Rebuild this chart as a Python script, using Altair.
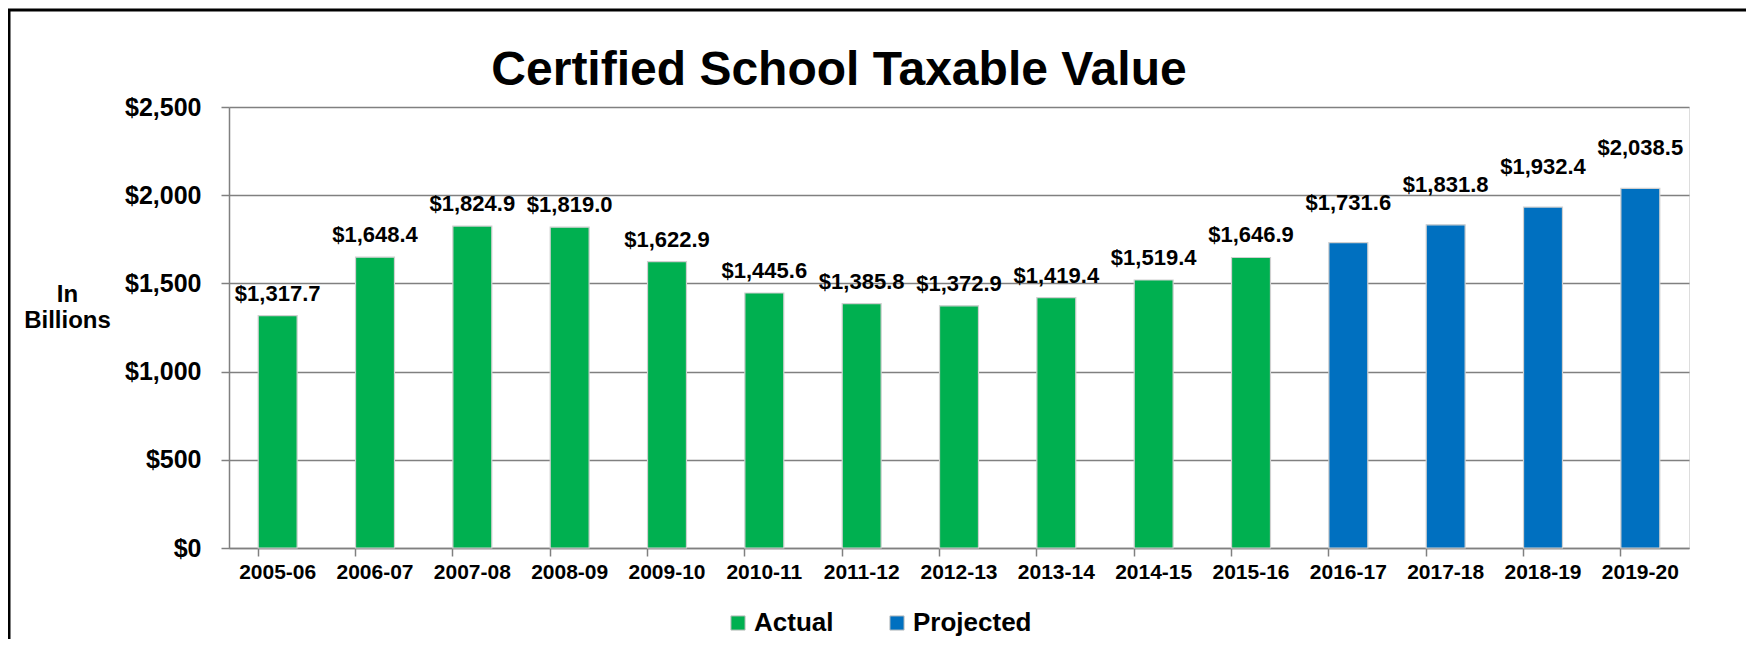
import altair as alt
import pandas as pd

years = ["2005-06", "2006-07", "2007-08", "2008-09", "2009-10", "2010-11", "2011-12",
         "2012-13", "2013-14", "2014-15", "2015-16", "2016-17", "2017-18", "2018-19", "2019-20"]
values = [1317.7, 1648.4, 1824.9, 1819.0, 1622.9, 1445.6, 1385.8,
          1372.9, 1419.4, 1519.4, 1646.9, 1731.6, 1831.8, 1932.4, 2038.5]
status = ["Actual"] * 11 + ["Projected"] * 4
series = ["Actual", "Projected"]
colors = ["#00B050", "#0070C0"]
y_ticks = [0, 500, 1000, 1500, 2000, 2500]

df = pd.DataFrame({"year": years, "value": values, "status": status})

FONT = "Liberation Sans"
W, H = 1460, 441

x_scale = alt.Scale(paddingInner=0.6, paddingOuter=0.3)
y_scale = alt.Scale(domain=[0, 2500], nice=False, zero=True)

x_enc = alt.X("year:N", sort=years, title=None, scale=x_scale,
              axis=alt.Axis(labelAngle=0, labelFont=FONT, labelFontSize=21, labelFontWeight="bold",
                            labelColor="black", labelPadding=5, tickSize=8, tickColor="#808080",
                            tickWidth=1.5, domainColor="#808080", domainWidth=1.5,
                            bandPosition=0, grid=False))
y_enc = alt.Y("value:Q", scale=y_scale,
              title=["In", "Billions"],
              axis=alt.Axis(values=y_ticks, format="$,.0f", labelFont=FONT, labelFontSize=25,
                            labelFontWeight="bold", labelColor="black", labelPadding=20,
                            tickSize=8, tickColor="#808080", tickWidth=1.5,
                            domainColor="#808080", domainWidth=1.5,
                            grid=True, gridColor="#808080", gridWidth=1.5,
                            titleAngle=0, titleFont=FONT, titleFontSize=24, titleFontWeight="bold",
                            titleColor="black", titleX=-162, titleY=194, titleAlign="center",
                            titleBaseline="alphabetic", titleLineHeight=26))

base = alt.Chart(df)

bars = base.mark_bar(stroke="#d0d0d0", strokeWidth=1.2).encode(
    x=x_enc,
    y=y_enc,
    color=alt.Color("status:N", scale=alt.Scale(domain=series, range=colors),
                    legend=alt.Legend(title=None, orient="none", legendX=496, legendY=503,
                                      direction="horizontal", symbolType="square", symbolSize=200,
                                      symbolStrokeColor="#bfbfbf", symbolStrokeWidth=1,
                                      labelFont=FONT, labelFontSize=26, labelFontWeight="bold",
                                      labelColor="black", columnPadding=50, labelOffset=3)),
)

x_plain = alt.X("year:N", sort=years, scale=x_scale, title=None)
y_plain = alt.Y("value:Q", scale=y_scale, title=["In", "Billions"])

labels_actual = base.transform_filter(alt.datum.status == "Actual").mark_text(
    font=FONT, fontSize=22, fontWeight="bold", color="black", baseline="alphabetic", dy=-15
).encode(x=x_plain, y=y_plain, text=alt.Text("value:Q", format="$,.1f"))

labels_proj = base.transform_filter(alt.datum.status == "Projected").mark_text(
    font=FONT, fontSize=22, fontWeight="bold", color="black", baseline="alphabetic", dy=-33
).encode(x=x_plain, y=y_plain, text=alt.Text("value:Q", format="$,.1f"))

frame = alt.Chart(pd.DataFrame({"k": [0]})).mark_rect(
    fillOpacity=0, stroke="black", strokeWidth=3
).encode(x=alt.value(-220), x2=alt.value(W + 200), y=alt.value(-97), y2=alt.value(H + 200))

chart = alt.layer(bars, labels_actual, labels_proj, frame).properties(
    width=W, height=H,
    title=alt.TitleParams("Certified School Taxable Value", font=FONT, fontSize=48,
                          fontWeight="bold", color="black", anchor="middle", dx=-120,
                          baseline="alphabetic", offset=23, dy=147),
    autosize=alt.AutoSizeParams(type="none"),
    padding={"left": 221, "top": 99, "right": 57, "bottom": 91},
).configure_view(stroke="#808080", strokeWidth=1.5).configure(background="white")

chart.save("out.html", embed_options={"renderer": "svg", "actions": False})
